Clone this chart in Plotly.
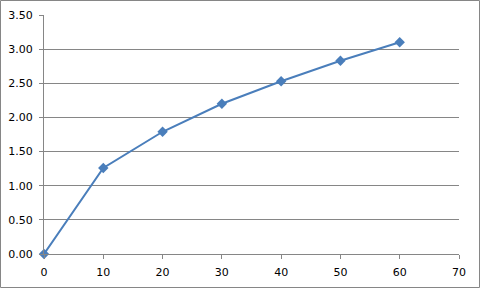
import plotly.graph_objects as go

x_vals = [0, 10, 20, 30, 40, 50, 60]
y_vals = [0.00, 1.26, 1.79, 2.20, 2.53, 2.83, 3.10]
x_ticks = [0, 10, 20, 30, 40, 50, 60, 70]
y_ticks = [0.0, 0.5, 1.0, 1.5, 2.0, 2.5, 3.0, 3.5]
y_tick_text = ["%.2f" % v for v in y_ticks]

W, H = 481, 289
ml, mr, mt, mb = 44, 22, 15, 35
pw, ph = W - ml - mr, H - mt - mb

fig = go.Figure()
fig.add_trace(go.Scatter(
    x=x_vals, y=y_vals, mode="lines+markers",
    line=dict(color="#4A7EBB", width=2),
    marker=dict(symbol="diamond", size=8, color="#4A7EBB"),
    showlegend=False, cliponaxis=False,
))

fig.update_layout(
    width=W, height=H,
    margin=dict(l=ml, r=mr, t=mt, b=mb, autoexpand=False),
    paper_bgcolor="white", plot_bgcolor="white",
    font=dict(family="DejaVu Sans", size=11, color="#000000"),
    xaxis=dict(
        range=[0, 70], tickvals=x_ticks, showgrid=False, zeroline=False,
        showline=True, linecolor="#868686", linewidth=1,
        ticks="outside", ticklen=4, tickcolor="#868686",
        ticklabelstandoff=4, automargin=False,
        fixedrange=True,
    ),
    yaxis=dict(
        range=[0, 3.5], tickvals=y_ticks, ticktext=y_tick_text,
        showgrid=True, gridcolor="#868686", gridwidth=1, zeroline=False,
        showline=True, linecolor="#868686", linewidth=1,
        ticks="outside", ticklen=4, tickcolor="#868686",
        ticklabelstandoff=4, automargin=False,
        fixedrange=True,
    ),
    shapes=[dict(
        type="rect", xref="paper", yref="paper",
        x0=-(ml - 0.5) / pw, x1=1 + (mr - 1.5) / pw,
        y0=-(mb - 1.5) / ph, y1=1 + (mt - 0.5) / ph,
        line=dict(color="#868686", width=1), fillcolor="rgba(0,0,0,0)",
        layer="below",
    )],
)

fig.write_html("out.html")
